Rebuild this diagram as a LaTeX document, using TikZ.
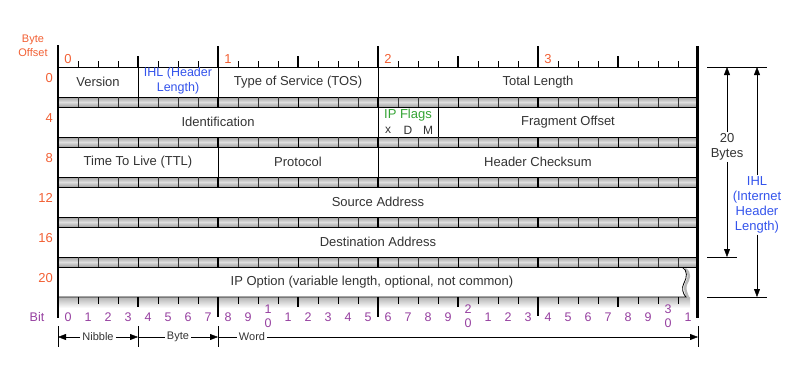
\documentclass[tikz,border=0pt]{standalone}
\usepackage{fontspec}
\setmainfont{Liberation Sans}
\usetikzlibrary{arrows.meta}
\definecolor{offsetorange}{RGB}{242,96,52}
\definecolor{bitpurple}{RGB}{150,64,160}
\definecolor{ihlblue}{RGB}{52,84,236}
\definecolor{flaggreen}{RGB}{52,164,52}
\tikzset{
	fieldtext/.style={text=black!80,font=\fontsize{13}{14}\selectfont},
	offsetnum/.style={text=offsetorange,font=\fontsize{13}{14}\selectfont},
	bitnum/.style={text=bitpurple,font=\fontsize{12.5}{12}\selectfont,inner sep=0pt},
	unitlabel/.style={text=black!80,font=\fontsize{11}{12}\selectfont,inner sep=2pt},
	dimarrow/.style={-{Triangle[length=8pt,width=6pt]}},
	fieldbox/.style={draw,line width=0.8pt,fill=white},
}

\def\headerrows{
	\draw[fieldbox] (58,67) rectangle (698,97);
	\draw[fieldbox] (58,107) rectangle (698,137);
	\draw[fieldbox] (58,147) rectangle (698,177);
	\draw[fieldbox] (58,187) rectangle (698,217);
	\draw[fieldbox] (58,227) rectangle (698,257);
	% shadow under the option row
	\shade[top color=gray!60,bottom color=white] (58,297) rectangle (690,308);
	\draw[gray!55,line width=2.5pt] (685,269) .. controls (691,273) and (689,279) .. (686,284)
		.. controls (684,288) and (686,294) .. (689,299);
	\draw[fieldbox] (682,267) -- (58,267) -- (58,297) -- (686,297)
		.. controls (683,294) and (681,288) .. (684,283)
		.. controls (687,278) and (688,270) .. (682,267);
	\draw[line width=0.8pt] (138,67) -- (138,97) (218,67) -- (218,97) (378,67) -- (378,97)
		(378,107) -- (378,137) (438,107) -- (438,137)
		(218,147) -- (218,177) (378,147) -- (378,177);
}
\def\bands{
	\foreach \y in {97,137,177,217,257}{
		\shade[top color=gray!75,bottom color=gray!75,middle color=gray!25] (58,\y) rectangle (698,\y+10);
		\draw[line width=0.8pt] (58,\y) -- (698,\y) (58,\y+10) -- (698,\y+10);
		\foreach \i in {1,...,31}
			\draw[gray!40!black,line width=0.5pt] ({58+20*\i},\y) -- ({58+20*\i},\y+10);
		\foreach \x in {138,298,458,618}
			\draw[line width=1pt] (\x,\y) -- (\x,\y+10);
		\draw[line width=1.3pt] (218,\y) -- (218,\y+10) (538,\y) -- (538,\y+10);
		\draw[line width=2.2pt] (378,\y) -- (378,\y+10);
	}
}
\def\fieldnames{
	\path (98,82) node(Version) [fieldtext] {Version}
			(178,81) node(IHL) [fieldtext,text=ihlblue,align=center,font=\fontsize{12.5}{15}\selectfont] {IHL (Header\\Length)}
			(298,82) node(TOS) [fieldtext] {Type of Service (TOS)}
			(538,82) node(TotalLength) [fieldtext] {Total Length}
			(218,122) node(Identification) [fieldtext] {Identification}
			(408,115) node(IPFlags) [fieldtext,text=flaggreen] {IP Flags}
			(388,130) node(FlagX) [fieldtext,font=\fontsize{12}{12}\selectfont] {x}
			(408,130) node(FlagD) [fieldtext,font=\fontsize{12}{12}\selectfont] {D}
			(428,130) node(FlagM) [fieldtext,font=\fontsize{12}{12}\selectfont] {M}
			(568,122) node(FragOffset) [fieldtext] {Fragment Offset}
			(138,162) node(TTL) [fieldtext] {Time To Live (TTL)}
			(298,162) node(Protocol) [fieldtext] {Protocol}
			(538,162) node(Checksum) [fieldtext] {Header Checksum}
			(378,202) node(SourceAddr) [fieldtext] {Source Address}
			(378,242) node(DestAddr) [fieldtext] {Destination Address}
			(372,282) node(IPOption) [fieldtext] {IP Option (variable length, optional, not common)};
}
\def\topruler{
	\foreach \i in {1,...,31}
		\draw[line width=0.6pt] ({58+20*\i},61) -- ({58+20*\i},67);
	\foreach \x in {138,298,458,618}
		\draw[line width=1.2pt] (\x,56) -- (\x,67);
	\draw[line width=1.3pt] (218,46) -- (218,67) (538,46) -- (538,67);
	\draw[line width=2.2pt] (378,46) -- (378,67);
	\path (68,59) node(ByteZero) [offsetnum] {0}
			(228,59) node(ByteOne) [offsetnum] {1}
			(388,59) node(ByteTwo) [offsetnum] {2}
			(548,59) node(ByteThree) [offsetnum] {3}
			(33,46) node(ByteOffset) [offsetnum,align=center,font=\fontsize{11}{13.5}\selectfont] {Byte\\Offset};
	\path (53,78) node(OffA) [offsetnum,anchor=east,inner sep=0pt] {0}
			(53,118) node(OffB) [offsetnum,anchor=east,inner sep=0pt] {4}
			(53,158) node(OffC) [offsetnum,anchor=east,inner sep=0pt] {8}
			(53,198) node(OffD) [offsetnum,anchor=east,inner sep=0pt] {12}
			(53,238) node(OffE) [offsetnum,anchor=east,inner sep=0pt] {16}
			(53,278) node(OffF) [offsetnum,anchor=east,inner sep=0pt] {20};
}
\def\bottomruler{
	\foreach \i in {1,...,31}
		\draw[line width=0.6pt] ({58+20*\i},297) -- ({58+20*\i},304);
	\foreach \x in {138,298,458,618}
		\draw[line width=1.2pt] (\x,297) -- (\x,307);
	\draw[line width=1.3pt] (218,297) -- (218,317) (538,297) -- (538,316);
	\draw[line width=2.2pt] (378,297) -- (378,317);
	\node(BitWord) [bitnum] at (37,317) {Bit};
	\foreach \i in {0,...,9}
		\node(Bit\i) [bitnum] at ({68+20*\i},317) {\i};
	\foreach \i in {1,...,9}
		\path ({268+20*\i},317) node(BitA\i) [bitnum] {\i}
				({468+20*\i},317) node(BitB\i) [bitnum] {\i};
	\foreach \t in {1,2,3}
		\path ({68+200*\t},309) node(BitTen\t) [bitnum] {\t}
				({68+200*\t},323) node(BitZero\t) [bitnum] {0};
	\node(BitLast) [bitnum] at (688,317) {1};
}

\begin{document}
\begin{tikzpicture}[x=1pt,y=-1pt]
\useasboundingbox (0,0) rectangle (797,367);
\headerrows
\bands
\fieldnames
\topruler
\bottomruler
% outer bars
\draw[line width=2.5pt] (58,45) -- (58,318);
\draw[line width=2.5pt] (697.5,46) -- (697.5,318);
% units below
\draw[line width=0.6pt] (58,326) -- (58,347) (138,326) -- (138,347)
	(218,326) -- (218,347) (698,326) -- (698,347);
\coordinate (NibbleL) at (58,337);
\coordinate (NibbleR) at (138,337);
\coordinate (ByteR) at (218,337);
\coordinate (WordR) at (698,337);
\path (98,337) node(Nibble) [unitlabel] {Nibble}
		(178,337) node(Byte) [unitlabel] {Byte}
		(252,337) node(Word) [unitlabel] {Word};
\draw[dimarrow] (Nibble) -- (NibbleL);
\draw[dimarrow] (Nibble) -- (NibbleR);
\draw (Byte) -- (NibbleR);
\draw[dimarrow] (Byte) -- (ByteR);
\draw (Word) -- (ByteR);
\draw[dimarrow] (Word) -- (WordR);
% lengths at the right
\draw[line width=0.8pt] (707,67) -- (767,67) (707,257) -- (737,257) (707,297) -- (767,297);
\coordinate (BytesTop) at (727,67);
\coordinate (BytesBot) at (727,257);
\coordinate (IHLTop) at (757,67);
\coordinate (IHLBot) at (757,297);
\path (727,147) node(Bytes20) [fieldtext,align=center,inner sep=1pt,font=\fontsize{13}{15.5}\selectfont] {20\\Bytes}
		(757,205) node(IHLTotal) [fieldtext,text=ihlblue,align=center,inner sep=1pt,font=\fontsize{13}{15}\selectfont] {IHL\\(Internet\\Header\\Length)};
\draw[dimarrow] (Bytes20) -- (BytesTop);
\draw[dimarrow] (Bytes20) -- (BytesBot);
\draw[dimarrow] (IHLTotal) -- (IHLTop);
\draw[dimarrow] (IHLTotal) -- (IHLBot);
\end{tikzpicture}
\end{document}
